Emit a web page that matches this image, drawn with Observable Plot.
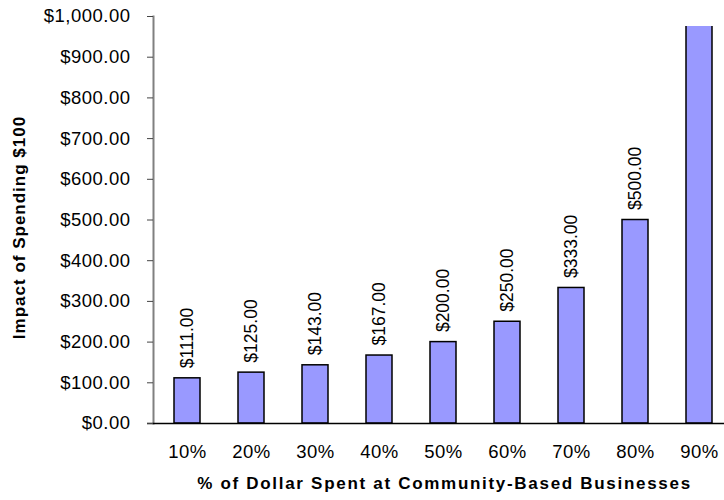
<!DOCTYPE html>
<html><head><meta charset="utf-8">
<script src="https://cdn.jsdelivr.net/npm/d3@7"></script>
<script src="https://cdn.jsdelivr.net/npm/@observablehq/plot@0.6"></script>
<style>
body{margin:0;background:#fff;}
#chart svg{font-family:"Liberation Sans",Arial,sans-serif;}
</style></head><body><div id="chart"></div>
<script>
const categories = ["10%","20%","30%","40%","50%","60%","70%","80%","90%"];
const impact = [111,125,143,167,200,250,333,500,1000];
const yTicks = [0,100,200,300,400,500,600,700,800,900,1000];
const xTitle = "% of Dollar Spent at Community-Based Businesses";
const yTitle = "Impact of Spending $100";

const data = categories.map((c,i)=>({category:c, value:impact[i]}));
const fmt = d3.format("$,.2f");

const chart = Plot.plot({
  width:724, height:500,
  marginLeft:153, marginRight:0, marginTop:26, marginBottom:77,
  style:{fontFamily:"Liberation Sans, Arial, sans-serif", background:"white", overflow:"visible"},
  x:{domain:categories, range:[154,733], paddingInner:0.59, paddingOuter:0.295},
  y:{domain:[0,1000], range:[423,16]},
  marks:[
    Plot.barY(data,{x:"category", y:"value", fill:"#9999ff", stroke:"black", strokeWidth:1.5, clip:true}),
    Plot.text(data,{filter:d=>d.value<1000, x:"category", y:"value", text:d=>fmt(d.value), rotate:-90, textAnchor:"start", lineAnchor:"middle", dy:-10, fontSize:17.5, fill:"black"}),
    Plot.frame({anchor:"left", stroke:"#808080", strokeWidth:2, insetTop:-10}),
    Plot.ruleY([0],{stroke:"black", strokeWidth:1.5, insetLeft:-6}),
    Plot.axisY({ticks:yTicks, tickFormat:fmt, tickSize:6, tickPadding:17, fontSize:18.5, label:null, stroke:"#444", fill:"black"}),
    Plot.axisX({tickSize:0, tickPadding:21, fontSize:18.5, label:null, fill:"black"}),
    Plot.text([xTitle],{frameAnchor:"bottom", dy:60, dx:5.5, textAnchor:"middle", lineAnchor:"middle", fontSize:17, fontWeight:"bold", fill:"black"}),
    Plot.text([yTitle],{frameAnchor:"left", dx:-134, dy:2.5, rotate:-90, textAnchor:"middle", lineAnchor:"middle", fontSize:17, fontWeight:"bold", fill:"black"})
  ]
});
document.getElementById("chart").appendChild(chart);
d3.select(chart).selectAll("text").each(function(){
  const t = this.textContent;
  if (t === xTitle) this.style.letterSpacing = "1.7px";
  else if (t === yTitle) this.style.letterSpacing = "1px";
});
d3.select(chart).selectAll('[aria-label="y-axis tick label"] text, [aria-label="x-axis tick label"] text').style("letter-spacing","0.5px");
</script></body></html>
